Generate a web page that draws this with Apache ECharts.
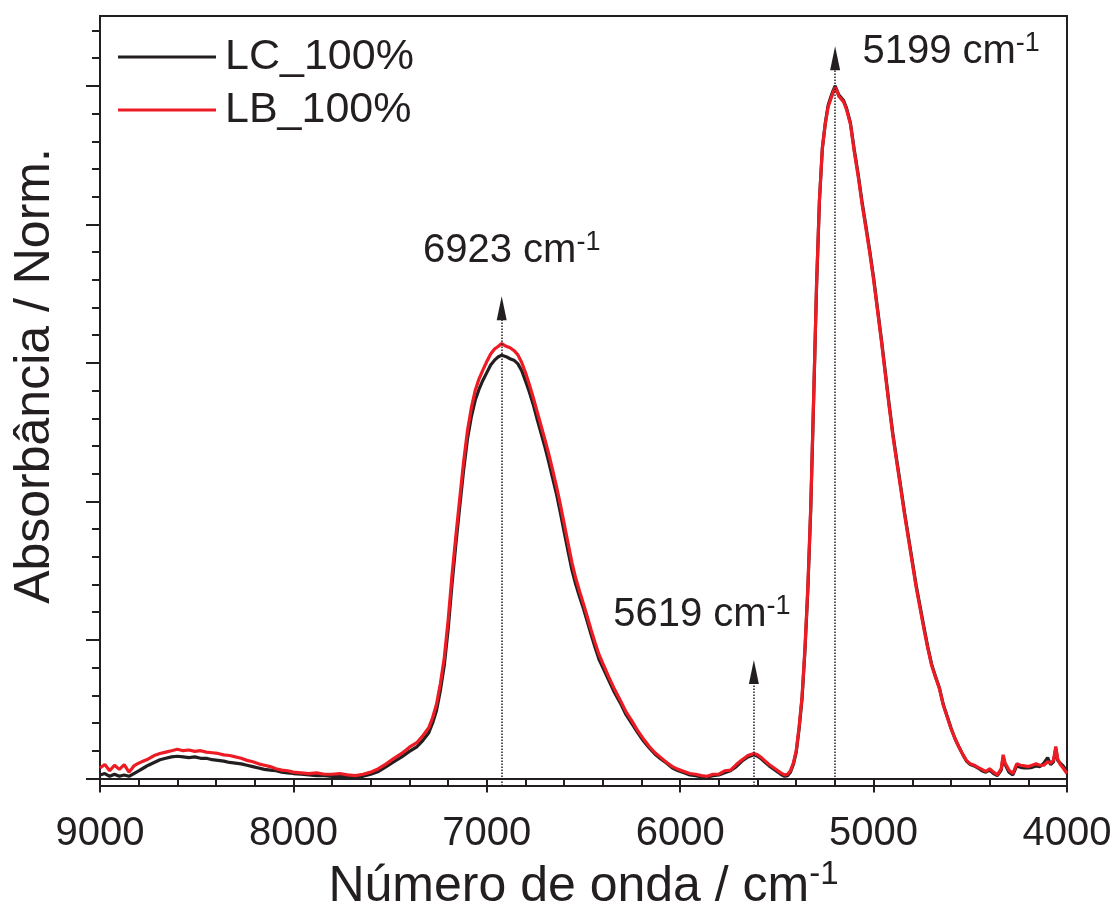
<!DOCTYPE html>
<html>
<head>
<meta charset="utf-8">
<title>Absorbância NIR</title>
<script src="https://cdn.jsdelivr.net/npm/echarts@6/dist/echarts.min.js"></script>
<style>
  html, body { margin: 0; padding: 0; background: #fff; }
  #chart { width: 1118px; height: 914px; }
</style>
</head>
<body>
<div id="chart"></div>
<script>
// NIR spectra, normalised absorbance vs. wavenumber (cm-1)
const wavenumber = [
  9000, 8975, 8950, 8925, 8900, 8875, 8850, 8825, 8800, 8775, 8750, 8720, 8690, 8660, 8630, 8600,
  8570, 8540, 8510, 8480, 8450, 8420, 8390, 8360, 8330, 8300, 8270, 8240, 8210, 8180, 8150, 8120,
  8090, 8060, 8030, 8000, 7960, 7920, 7880, 7840, 7800, 7760, 7720, 7680, 7640, 7600,
  7560, 7520, 7480, 7440, 7400, 7360, 7330, 7300, 7280, 7260,
  7240, 7220, 7200, 7180, 7160, 7140, 7120, 7100, 7080, 7060,
  7040, 7020, 7000, 6980, 6960, 6940, 6923, 6900, 6880, 6860,
  6840, 6820, 6800, 6780, 6760, 6740, 6720, 6700, 6680, 6660,
  6640, 6620, 6600, 6580, 6560, 6540, 6520, 6500, 6480, 6460,
  6440, 6420, 6400, 6370, 6340, 6310, 6280, 6250, 6220, 6190,
  6160, 6130, 6100, 6070, 6040, 6010, 5980, 5950,
  5920, 5890, 5860, 5830, 5800, 5770, 5740, 5710, 5680, 5650, 5619,
  5600, 5580, 5560, 5540, 5520, 5500, 5480, 5460, 5445, 5430, 5415,
  5400, 5385, 5370, 5355, 5340, 5325, 5310, 5295, 5280, 5265,
  5250, 5235, 5220, 5210, 5199, 5190, 5180, 5170, 5155, 5140,
  5120, 5100, 5080, 5060, 5040, 5020, 5000, 4980, 4960, 4940,
  4920, 4900, 4880, 4860, 4840, 4820, 4800, 4780, 4760, 4740,
  4720, 4700, 4680, 4660, 4640, 4620, 4600, 4580, 4560, 4540, 4520,
  4500, 4480, 4460, 4440, 4420, 4400, 4380, 4360, 4340, 4330,
  4320, 4300, 4280, 4260, 4240, 4220, 4200, 4180, 4160, 4140,
  4120, 4100, 4085, 4070, 4058, 4048, 4035, 4020, 4000
];

const lcAbs = [
  .005, .007, .003, .006, .003, .005, .003, .007, .011, .015, .019, .023, .027, .029, .031, .032,
  .031, .030, .031, .029, .029, .027, .026, .025, .023, .022, .021, .019, .017, .015, .013, .012,
  .011, .009, .008, .007, .006, .005, .004, .004, .003, .003, .002, .002, .003, .006,
  .010, .017, .024, .031, .039, .046, .055, .066, .080, .098,
  .127, .163, .215, .280, .338, .392, .445, .490, .522, .546,
  .562, .575, .586, .597, .604, .609, .611, .609, .606, .604,
  .599, .589, .574, .558, .540, .519, .499, .479, .457, .434,
  .411, .384, .356, .328, .301, .280, .262, .245, .226, .207,
  .189, .172, .160, .142, .124, .109, .092, .079, .066, .054,
  .044, .035, .028, .022, .015, .011, .008, .005,
  .004, .002, .002, .004, .005, .008, .011, .017, .025, .031, .034,
  .032, .028, .023, .018, .014, .010, .006, .003, .004, .009, .020,
  .038, .072, .115, .184, .272, .388, .546, .710, .834, .910,
  .946, .972, .985, .993, 1.000, .994, .987, .984, .979, .968,
  .947, .908, .873, .833, .798, .762, .723, .679, .635, .588,
  .541, .497, .459, .422, .384, .349, .314, .279, .249, .219,
  .190, .165, .147, .131, .107, .090, .073, .058, .046, .035, .025,
  .020, .018, .015, .011, .009, .012, .007, .004, .012, .031,
  .020, .009, .005, .018, .016, .015, .015, .016, .018, .017,
  .022, .030, .020, .024, .043, .026, .022, .018, .010
];

const lbAbs = [
  .015, .020, .011, .019, .013, .020, .009, .018, .022, .025, .028, .033, .036, .038, .040, .042,
  .040, .041, .039, .040, .038, .037, .036, .034, .033, .031, .029, .026, .024, .021, .019, .017,
  .014, .012, .011, .009, .008, .007, .008, .006, .006, .007, .005, .004, .006, .009,
  .014, .021, .029, .036, .045, .052, .062, .073, .088, .107,
  .137, .174, .228, .293, .350, .404, .457, .502, .535, .560,
  .577, .590, .602, .613, .620, .624, .628, .624, .622, .618,
  .612, .601, .586, .569, .550, .530, .510, .490, .469, .446,
  .422, .396, .368, .340, .312, .289, .270, .252, .233, .214,
  .196, .179, .166, .147, .129, .113, .096, .083, .069, .057,
  .046, .037, .030, .023, .017, .013, .010, .007,
  .006, .004, .003, .006, .006, .011, .012, .020, .027, .033, .036,
  .034, .030, .025, .020, .016, .012, .008, .005, .006, .011, .022,
  .040, .075, .118, .188, .277, .393, .551, .713, .836, .910,
  .945, .970, .982, .990, .998, .993, .985, .982, .977, .966,
  .945, .905, .870, .830, .795, .759, .720, .676, .632, .585,
  .538, .494, .456, .419, .381, .346, .311, .276, .246, .216,
  .188, .163, .146, .130, .106, .089, .072, .058, .046, .035, .026,
  .021, .019, .016, .013, .010, .014, .009, .005, .014, .034,
  .022, .012, .007, .021, .019, .018, .017, .019, .021, .019,
  .019, .024, .022, .026, .046, .028, .020, .015, .007
];

const seriesNames = ['LC_100%', 'LB_100%'];
const peakWavenumbers = [6923, 5619, 5199];

const xMin = 4000, xMax = 9000, xStep = 1000;
const yMajorTicks = [0, 0.2, 0.4, 0.6, 0.8, 1.0];
const yMinorTicks = [0.04, 0.08, 0.12, 0.16, 0.24, 0.28, 0.32, 0.36, 0.44, 0.48, 0.52, 0.56,
                     0.64, 0.68, 0.72, 0.76, 0.84, 0.88, 0.92, 0.96, 1.04, 1.08];

const INK = '#231f20';
const RED = '#ed1c24';
const FONT = '"Liberation Sans", Arial, Helvetica, sans-serif';
const yMin = -0.011, yMax = 1.101;

// arrow head centre height and label offset (px) for each peak marker
const markerLayout = {
  6923: { head: 0.679, offset: [10, -57] },
  5619: { head: 0.1535, offset: [-52, -57] },
  5199: { head: 1.040, offset: [116, -6] }
};

const pairs = arr => wavenumber.map((w, i) => [w, arr[i]]);

const supRich = {
  n: { fontSize: 40, lineHeight: 44, fontFamily: FONT, color: INK },
  s: { fontSize: 27, lineHeight: 27, verticalAlign: 'top', fontFamily: FONT, color: INK }
};

const chart = echarts.init(document.getElementById('chart'), null, { renderer: 'canvas' });

chart.setOption({
  animation: false,
  backgroundColor: '#ffffff',
  textStyle: { fontFamily: FONT, color: INK },
  grid: {
    left: 100, right: 51, top: 16, bottom: 128,
    outerBoundsMode: 'none',
    containLabel: false,
    show: true, borderColor: INK, borderWidth: 2, backgroundColor: 'transparent'
  },
  legend: {
    orient: 'vertical',
    left: 113, top: 28,
    icon: 'rect',
    itemWidth: 98, itemHeight: 3, itemGap: 5,
    data: seriesNames,
    textStyle: { fontSize: 43, lineHeight: 48, color: INK, fontFamily: FONT, padding: [0, 0, 0, 4] }
  },
  xAxis: {
    type: 'value',
    min: xMin, max: xMax, interval: xStep,
    inverse: true,
    name: '{t|Número de onda / cm}{s|-1}',
    nameLocation: 'middle',
    nameGap: 72,
    nameTextStyle: {
      rich: {
        t: { fontSize: 50, lineHeight: 56, fontFamily: FONT, color: INK },
        s: { fontSize: 33, lineHeight: 33, verticalAlign: 'top', fontFamily: FONT, color: INK }
      }
    },
    axisLine: { show: true, lineStyle: { color: INK, width: 2 } },
    axisTick: { show: true, length: 14, lineStyle: { color: INK, width: 2 } },
    minorTick: { show: true, splitNumber: 5, length: 7, lineStyle: { color: INK, width: 2 } },
    splitLine: { show: false },
    minorSplitLine: { show: false },
    axisLabel: { fontSize: 40, color: INK, fontFamily: FONT, margin: 28, formatter: v => String(v) }
  },
  yAxis: [
    {
      type: 'value', min: yMin, max: yMax,
      name: 'Absorbância / Norm.',
      nameLocation: 'middle',
      nameGap: 40,
      nameTextStyle: { fontSize: 50, color: INK, fontFamily: FONT, padding: [0, 0, 0, 50] },
      axisLine: { show: true, lineStyle: { color: INK, width: 2 } },
      axisTick: { show: true, length: 14, customValues: yMajorTicks, lineStyle: { color: INK, width: 2 } },
      axisLabel: { show: false },
      splitLine: { show: false }
    },
    {
      type: 'value', min: yMin, max: yMax, position: 'left',
      axisLine: { show: false },
      axisTick: { show: true, length: 8, customValues: yMinorTicks, lineStyle: { color: INK, width: 2 } },
      axisLabel: { show: false },
      splitLine: { show: false }
    }
  ],
  series: [
    {
      name: seriesNames[0],
      type: 'line',
      data: pairs(lcAbs),
      showSymbol: false,
      color: INK,
      itemStyle: { color: INK },
      lineStyle: { color: INK, width: 3.2 },
      z: 2
    },
    {
      name: seriesNames[1],
      type: 'line',
      data: pairs(lbAbs),
      showSymbol: false,
      color: RED,
      itemStyle: { color: RED },
      lineStyle: { color: RED, width: 3.2 },
      z: 3,
      markLine: {
        silent: true,
        symbol: ['none', 'triangle'],
        symbolSize: [10, 24],
        label: { show: false },
        lineStyle: { color: INK, width: 1.5, type: 'dotted' },
        emphasis: { disabled: true },
        data: peakWavenumbers.map(w => [
          { coord: [w, yMin] },
          { coord: [w, markerLayout[w].head] }
        ])
      },
      markPoint: {
        silent: true,
        symbol: 'circle',
        symbolSize: 1,
        itemStyle: { color: 'rgba(0,0,0,0)' },
        data: peakWavenumbers.map(w => ({
          coord: [w, markerLayout[w].head],
          label: {
            show: true,
            position: 'inside',
            offset: markerLayout[w].offset,
            formatter: '{n|' + w + ' cm}{s|-1}',
            rich: supRich
          }
        }))
      }
    }
  ]
});
</script>
</body>
</html>
